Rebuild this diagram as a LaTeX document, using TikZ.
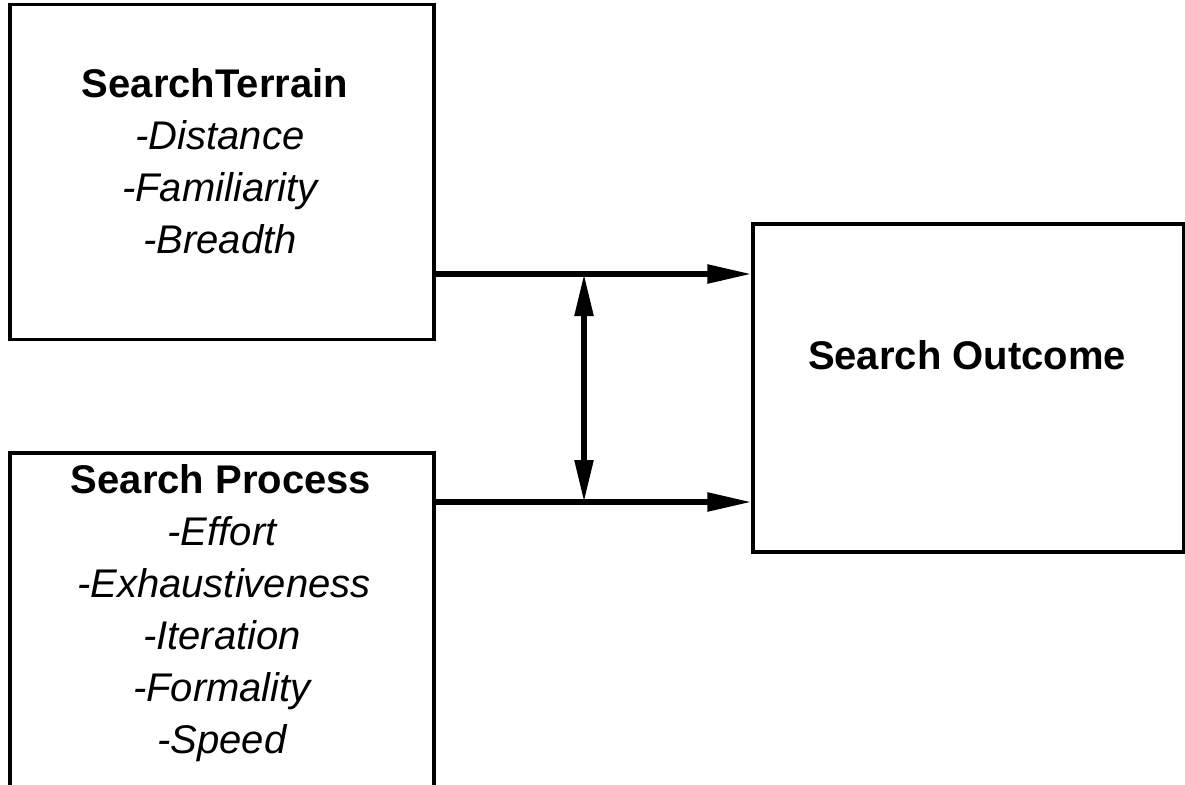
\documentclass[tikz,border=0pt]{standalone}
\usepackage{fontspec}
\setmainfont{Liberation Sans}
\usetikzlibrary{arrows.meta}
\begin{document}
\begin{tikzpicture}[x=1pt,y=-1pt,
  box/.style={draw,line width=3.2pt,rectangle,inner sep=0pt},
  heading/.style={anchor=base,inner sep=0pt,font=\fontsize{40}{52}\selectfont\bfseries},
  item/.style={anchor=base,inner sep=0pt,font=\fontsize{40}{52}\selectfont\itshape},
  flow/.style={line width=5.4pt,-{Triangle[length=44pt,width=18pt]}},
  link/.style={line width=5.4pt,{Triangle[length=42pt,width=18pt]}-{Triangle[length=42pt,width=18pt]}}]
\useasboundingbox (0,0) rectangle (1185,784);
\clip (0,0) rectangle (1185,784);

% boxes
\node[box,minimum width=424pt,minimum height=335pt] (terrain) at (222,172) {};
\node[box,minimum width=424pt,minimum height=400pt] (process) at (222,653) {};
\node[box,minimum width=431pt,minimum height=328pt] (outcome) at (968.5,388) {};

% texts of the terrain box
\node[heading] (t0) at (215,97) {SearchTerrain};
\node[item] (t1) at (220,149) {-Distance};
\node[item] (t2) at (220,201) {-Familiarity};
\node[item] (t3) at (220,253) {-Breadth};

% texts of the process box
\node[heading] (p0) at (221,493) {Search Process};
\node[item] (p1) at (222,545) {-Effort};
\node[item] (p2) at (224,597) {-Exhaustiveness};
\node[item] (p3) at (222,649) {-Iteration};
\node[item] (p4) at (222,701) {-Formality};
\node[item] (p5) at (222,753) {-Speed};

% text of the outcome box
\node[heading] (o0) at (967,369) {Search Outcome};

% connectors
\coordinate (jt) at (584,274);
\coordinate (jb) at (584,502);
\draw[flow] (terrain.east |- jt) -- (outcome.west |- jt);
\draw[flow] (terrain.east |- jb) -- (outcome.west |- jb);
\draw[link] (jb) -- (jt);
\end{tikzpicture}
\end{document}
